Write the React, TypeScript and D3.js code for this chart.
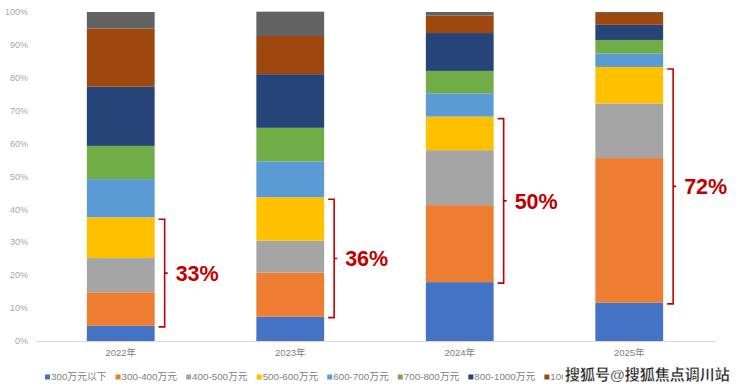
import * as d3 from "d3";
import React, { useEffect, useRef } from "react";

const years = ["2022年", "2023年", "2024年", "2025年"];
const seriesNames = [
	"300万元以下",
	"300-400万元",
	"400-500万元",
	"500-600万元",
	"600-700万元",
	"700-800万元",
	"800-1000万元",
	"1000-1500万元",
	"1500万元以上",
];
const seriesColors = ["#4472C4", "#ED7D31", "#A5A5A5", "#FFC000", "#5B9BD5", "#70AD47", "#264478", "#9E480E", "#636363"];

// share (%) of each price band per year, bottom to top
const s300 = [4.6, 7.4, 17.9, 11.6];
const s300to400 = [10.2, 13.4, 23.4, 44.0];
const s400to500 = [10.4, 9.7, 16.7, 16.6];
const s500to600 = [12.4, 13.2, 10.2, 11.1];
const s600to700 = [11.6, 10.9, 7.1, 4.1];
const s700to800 = [10.1, 10.2, 6.8, 4.1];
const s800to1000 = [18.0, 16.3, 11.5, 4.6];
const s1000to1500 = [17.7, 11.6, 5.3, 3.6];
const s1500up = [5.0, 7.4, 1.1, 0.3];

// highlighted share (300-600万元) per year
const bracketLabels = ["33%", "36%", "50%", "72%"];
const yTicks = [0, 10, 20, 30, 40, 50, 60, 70, 80, 90, 100];

const App = (): JSX.Element => {
	const svgRef = useRef<SVGSVGElement>(null);
	useEffect(() => {
		const width = 740,
			height = 391;
		const margin = { top: 12, right: 26, bottom: 50, left: 36 };
		const wmX = 563; // watermark covers the legend from here on

		const svg = d3.select(svgRef.current).append("g");

		const allSeries = [s300, s300to400, s400to500, s500to600, s600to700, s700to800, s800to1000, s1000to1500, s1500up];
		const table = years.map((yr, i) => {
			const row: any = { year: yr };
			seriesNames.forEach((n, k) => (row[n] = allSeries[k][i]));
			return row;
		});
		const stacked = d3.stack().keys(seriesNames)(table);

		const x = d3
			.scaleBand()
			.domain(years)
			.range([margin.left, width - margin.right])
			.paddingInner(0.6)
			.paddingOuter(0.3);
		const y = d3
			.scaleLinear()
			.domain([0, 100])
			.range([height - margin.bottom, margin.top]);

		// Y labels
		svg.append("g")
			.selectAll("text")
			.data(yTicks)
			.join("text")
			.attr("x", 28)
			.attr("y", (d) => y(d))
			.attr("dy", "0.35em")
			.attr("text-anchor", "end")
			.attr("font-size", 9)
			.attr("fill", "#a6a6a6")
			.text((d) => `${d}%`);

		// Bars
		svg.append("g")
			.selectAll("g")
			.data(stacked)
			.join("g")
			.attr("fill", (_, i) => seriesColors[i])
			.selectAll("rect")
			.data((d) => d)
			.join("rect")
			.attr("x", (d: any) => x(d.data.year)!)
			.attr("y", (d) => y(d[1]))
			.attr("width", x.bandwidth())
			.attr("height", (d) => y(d[0]) - y(d[1]));

		// X axis line
		svg.append("line")
			.attr("x1", margin.left)
			.attr("x2", width - margin.right + 2)
			.attr("y1", y(0) + 0.5)
			.attr("y2", y(0) + 0.5)
			.attr("stroke", "#d9d9d9")
			.attr("stroke-width", 1);

		svg.append("g")
			.selectAll("text")
			.data(years)
			.join("text")
			.attr("x", (d) => x(d)! + x.bandwidth() / 2)
			.attr("y", y(0) + 12)
			.attr("dy", "0.35em")
			.attr("text-anchor", "middle")
			.attr("font-size", 9.5)
			.attr("fill", "#808080")
			.text((d) => d);

		// brackets over the 300-600万元 bands
		const red = "#C00000";
		years.forEach((yr, i) => {
			const top = y(stacked[3][i][1]) + 2;
			const bot = y(stacked[1][i][0]) + 1;
			const bx = x(yr)! + x.bandwidth();
			const mid = (top + bot) / 2;
			const g = svg.append("g");
			g.append("path")
				.attr("d", `M${bx + 4},${top}H${bx + 10}V${bot}H${bx + 4}M${bx + 10},${mid}H${bx + 13}`)
				.attr("fill", "none")
				.attr("stroke", red)
				.attr("stroke-width", 1.6);
			g.append("text")
				.attr("x", bx + 21)
				.attr("y", mid)
				.attr("dy", "0.36em")
				.attr("font-size", 21.5)
				.attr("font-weight", "bold")
				.attr("font-family", "'Liberation Sans', Arial, sans-serif")
				.attr("fill", red)
				.text(bracketLabels[i]);
		});

		// Legend (clipped where the watermark sits)
		svg.append("clipPath")
			.attr("id", "legendClip")
			.append("rect")
			.attr("x", 0)
			.attr("y", 360)
			.attr("width", wmX)
			.attr("height", 31);
		const legend = svg.append("g").attr("clip-path", "url(#legendClip)");
		let lx = 45;
		const ly = 377;
		seriesNames.forEach((n, i) => {
			if (lx > wmX) return;
			legend.append("rect")
				.attr("x", lx)
				.attr("y", ly - 2.5)
				.attr("width", 5)
				.attr("height", 5)
				.attr("fill", seriesColors[i]);
			const t = legend
				.append("text")
				.attr("x", lx + 6)
				.attr("y", ly)
				.attr("dy", "0.35em")
				.attr("font-size", 9.8)
				.attr("fill", "#808080")
				.text(n);
			lx += 6 + (t.node() as SVGTextElement).getComputedTextLength() + 9;
		});

		// watermark
		svg.append("text")
			.attr("x", wmX + 2)
			.attr("y", 375)
			.attr("dy", "0.36em")
			.attr("font-size", 15)
			.attr("font-weight", "bold")
			.attr("fill", "#222")
			.attr("stroke", "#fff")
			.attr("stroke-width", 0.3)
			.text("搜狐号@搜狐焦点调川站");

		return () => {
			svg.remove();
		};
	}, []);

	return (
		<svg
			ref={svgRef}
			width={740}
			height={391}
			style={{ position: "absolute", left: 0, top: 0, background: "#fff" }}
			fontFamily="'Liberation Sans', 'Noto Sans CJK SC', sans-serif"
		/>
	);
};

export default App;
